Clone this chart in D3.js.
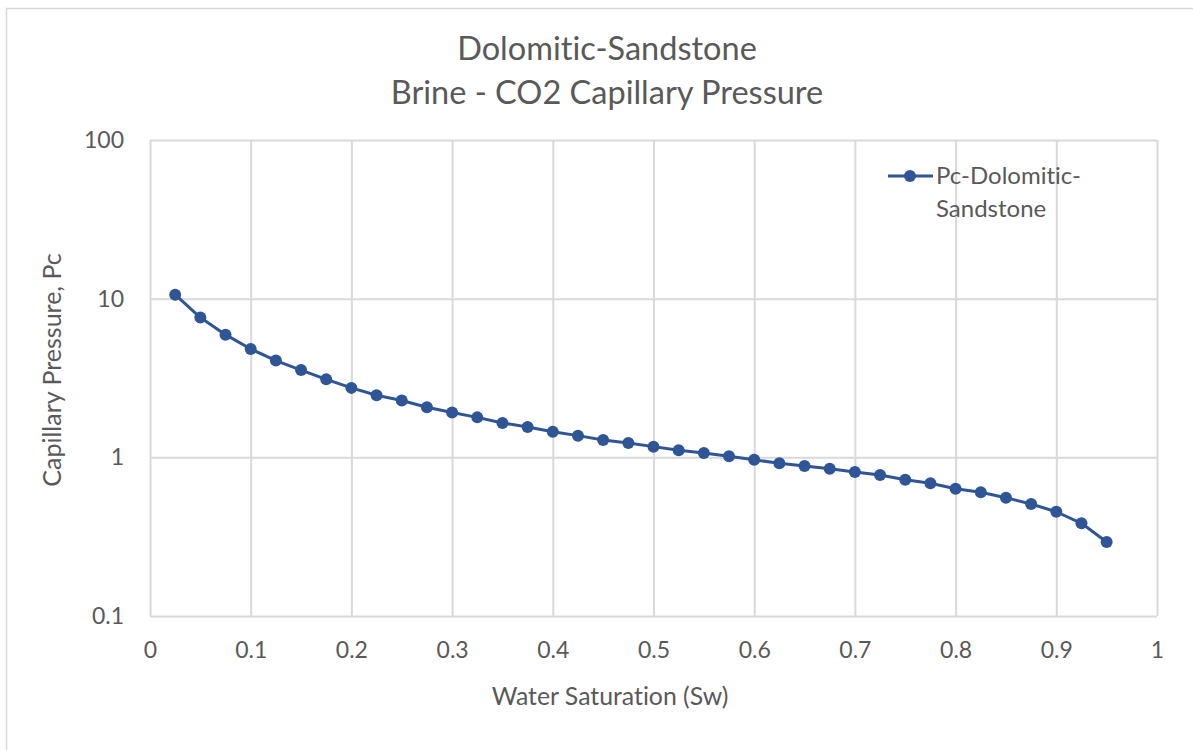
<!DOCTYPE html>
<html>
<head>
<meta charset="utf-8">
<script src="https://cdn.jsdelivr.net/npm/d3@7/dist/d3.min.js"></script>
<style>
  html, body { margin: 0; padding: 0; background: #ffffff; }
  svg { display: block; }
  text { font-family: Lato, "Open Sans", sans-serif; fill: #595959; font-variant-ligatures: none; }
</style>
</head>
<body>
<svg id="chart" width="1193" height="750"></svg>
<script>
// Water saturation (fraction) and measured capillary pressure
const saturation = [0.025, 0.05, 0.075, 0.1, 0.125, 0.15, 0.175, 0.2, 0.225, 0.25,
                    0.275, 0.3, 0.325, 0.35, 0.375, 0.4, 0.425, 0.45, 0.475, 0.5,
                    0.525, 0.55, 0.575, 0.6, 0.625, 0.65, 0.675, 0.7, 0.725, 0.75,
                    0.775, 0.8, 0.825, 0.85, 0.875, 0.9, 0.925, 0.95];
const pcDolomiticSandstone = [10.6, 7.6, 5.93, 4.82, 4.07, 3.55, 3.10, 2.74, 2.46, 2.28,
                              2.07, 1.915, 1.786, 1.647, 1.554, 1.451, 1.37, 1.287, 1.232, 1.168,
                              1.107, 1.066, 1.015, 0.965, 0.917, 0.882, 0.848, 0.808, 0.774, 0.723,
                              0.686, 0.634, 0.602, 0.557, 0.508, 0.454, 0.384, 0.293];
const xTicks = [0, 0.1, 0.2, 0.3, 0.4, 0.5, 0.6, 0.7, 0.8, 0.9, 1];
const yTicks = [0.1, 1, 10, 100];
const titleLines = ["Dolomitic-Sandstone", "Brine - CO2 Capillary Pressure"];
const seriesName = ["Pc-Dolomitic-", "Sandstone"];

const svg = d3.select("#chart");
const plot = { left: 150, right: 1157, top: 140, bottom: 616 };
const blue = "#2f5597";
const grid = "#d9d9d9";

// Outer chart frame
svg.append("rect")
  .attr("x", 6.5).attr("y", 8.5)
  .attr("width", 1200).attr("height", 760)
  .attr("fill", "#ffffff").attr("stroke", grid).attr("stroke-width", 1.5);

const x = d3.scaleLinear().domain([0, 1]).range([plot.left, plot.right]);
const y = d3.scaleLog().domain([0.1, 100]).range([plot.bottom, plot.top]);

// Vertical gridlines with tick labels
const xAxis = svg.append("g")
  .attr("transform", `translate(0,${plot.bottom})`)
  .call(d3.axisBottom(x).tickValues(xTicks)
        .tickSize(-(plot.bottom - plot.top)).tickPadding(26)
        .tickFormat(d => String(+d.toFixed(1))));
xAxis.select(".domain").remove();
xAxis.selectAll(".tick line").attr("stroke", grid).attr("stroke-width", 2);
xAxis.selectAll(".tick text").style("font-size", "23px").attr("fill", "#595959");

// Horizontal gridlines with log tick labels
const yAxis = svg.append("g")
  .attr("transform", `translate(${plot.left},0)`)
  .call(d3.axisLeft(y).tickValues(yTicks)
        .tickSize(-(plot.right - plot.left)).tickPadding(26)
        .tickFormat(d => String(d)));
yAxis.select(".domain").remove();
yAxis.selectAll(".tick line").attr("stroke", grid).attr("stroke-width", 2);
yAxis.selectAll(".tick text").style("font-size", "23px").attr("fill", "#595959");

// Series line and markers
const pts = saturation.map((s, i) => [s, pcDolomiticSandstone[i]]);
svg.append("path")
  .datum(pts)
  .attr("fill", "none")
  .attr("stroke", blue)
  .attr("stroke-width", 3)
  .attr("stroke-linejoin", "round")
  .attr("d", d3.line().x(d => x(d[0])).y(d => y(d[1])));
svg.append("g").selectAll("circle")
  .data(pts).join("circle")
  .attr("cx", d => x(d[0])).attr("cy", d => y(d[1]))
  .attr("r", 6).attr("fill", blue);

// Title
svg.append("g").selectAll("text")
  .data(titleLines).join("text")
  .attr("x", 607).attr("y", (d, i) => 60 + i * 44)
  .attr("text-anchor", "middle")
  .style("font-size", "32.5px")
  .text(d => d);

// Axis titles
svg.append("text")
  .attr("x", 610).attr("y", 705)
  .attr("text-anchor", "middle")
  .style("font-size", "24.8px")
  .text("Water Saturation (Sw)");
svg.append("text")
  .attr("transform", "translate(61,370) rotate(-90)")
  .attr("text-anchor", "middle")
  .style("font-size", "25px")
  .text("Capillary Pressure, Pc");

// Legend
const legend = svg.append("g");
legend.append("line")
  .attr("x1", 888).attr("x2", 933).attr("y1", 176).attr("y2", 176)
  .attr("stroke", blue).attr("stroke-width", 3);
legend.append("circle").attr("cx", 910).attr("cy", 176).attr("r", 6).attr("fill", blue);
legend.selectAll("text.lbl")
  .data(seriesName).join("text")
  .attr("class", "lbl")
  .attr("x", 936).attr("y", (d, i) => 184 + i * 32.5)
  .style("font-size", "24px")
  .text(d => d);
</script>
</body>
</html>
